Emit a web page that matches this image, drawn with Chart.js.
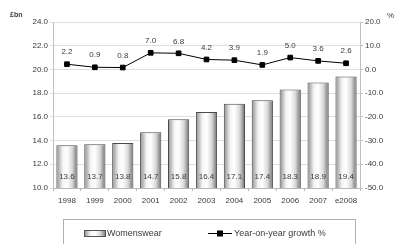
<!DOCTYPE html>
<html>
<head>
<meta charset="utf-8">
<script src="https://cdn.jsdelivr.net/npm/chart.js@4"></script>
<style>
  html, body { margin: 0; padding: 0; background: #fff; }
  #wrap { width: 396px; height: 244px; }
</style>
</head>
<body>
<div id="wrap"><canvas id="chart" width="396" height="244"></canvas></div>
<script>
// Womenswear market, £bn and growth %
const years = ['1998', '1999', '2000', '2001', '2002', '2003', '2004', '2005', '2006', '2007', 'e2008'];
const womenswear = [13.6, 13.7, 13.8, 14.7, 15.8, 16.4, 17.1, 17.4, 18.3, 18.9, 19.4];
const growth = [2.2, 0.9, 0.8, 7.0, 6.8, 4.2, 3.9, 1.9, 5.0, 3.6, 2.6];

const FONT = '"Liberation Sans", Arial, sans-serif';
const TEXT = '#3a3a3a';

function barGradient(ctx, x0, x1) {
  const g = ctx.createLinearGradient(x0, 0, x1, 0);
  g.addColorStop(0, '#8c8c8c');
  g.addColorStop(0.3, '#f4f4f4');
  g.addColorStop(0.5, '#ffffff');
  g.addColorStop(0.75, '#d8d8d8');
  g.addColorStop(1, '#6e6e6e');
  return g;
}

// scriptable fill: gradient across each bar
function barFill(context) {
  const chart = context.chart;
  const area = chart.chartArea;
  if (!area || context.dataIndex === undefined) return '#cccccc';
  const xs = chart.scales.x;
  const cat = (area.right - area.left) / years.length;
  const w = cat * 0.76;
  const cx = xs.getPixelForValue(context.dataIndex);
  return barGradient(chart.ctx, cx - w / 2, cx + w / 2);
}

// value labels, unit titles and the boxed legend
const extras = {
  id: 'extras',
  afterDatasetsDraw(chart) {
    const ctx = chart.ctx;
    ctx.save();
    ctx.font = '8px ' + FONT;
    ctx.fillStyle = TEXT;
    ctx.textAlign = 'center';
    ctx.textBaseline = 'middle';
    const base = chart.scales.y.getPixelForValue(10);
    const bars = chart.getDatasetMeta(0).data;
    bars.forEach((b, i) => {
      ctx.fillText(womenswear[i].toFixed(1), b.x, base - 11);
    });
    const pts = chart.getDatasetMeta(1).data;
    pts.forEach((p, i) => {
      ctx.fillText(growth[i].toFixed(1), p.x, p.y - 12);
    });
    ctx.restore();
  },
  afterDraw(chart) {
    const ctx = chart.ctx;
    ctx.save();
    ctx.font = 'bold 7px ' + FONT;
    ctx.fillStyle = TEXT;
    ctx.textBaseline = 'middle';
    ctx.textAlign = 'left';
    ctx.fillText('£bn', 10, 15);
    ctx.font = '8px ' + FONT;
    ctx.fillText('%', 387, 16);

    // legend box
    ctx.strokeStyle = '#b0b0b0';
    ctx.lineWidth = 1;
    ctx.strokeRect(63.5, 219.5, 292, 30);
    // bar swatch
    ctx.fillStyle = barGradient(ctx, 84, 106);
    ctx.fillRect(84, 230, 22, 7);
    ctx.strokeStyle = '#555';
    ctx.strokeRect(84.5, 230.5, 21, 6);
    ctx.fillStyle = TEXT;
    ctx.font = '9px ' + FONT;
    ctx.fillText(chart.data.datasets[0].label, 107, 234);
    // line swatch
    ctx.strokeStyle = '#000';
    ctx.beginPath();
    ctx.moveTo(208, 233.5);
    ctx.lineTo(232, 233.5);
    ctx.stroke();
    ctx.fillStyle = '#000';
    ctx.fillRect(217, 230.5, 6, 6);
    ctx.fillStyle = TEXT;
    ctx.fillText(chart.data.datasets[1].label, 234, 234);
    ctx.restore();
  }
};

new Chart(document.getElementById('chart'), {
  type: 'bar',
  data: {
    labels: years,
    datasets: [
      {
        type: 'bar',
        label: 'Womenswear',
        data: womenswear,
        yAxisID: 'y',
        backgroundColor: barFill,
        borderColor: '#4a4a4a',
        borderWidth: 1,
        categoryPercentage: 0.95,
        barPercentage: 0.8,
        order: 2
      },
      {
        type: 'line',
        label: 'Year-on-year growth %',
        data: growth,
        yAxisID: 'y1',
        borderColor: '#000',
        borderWidth: 1,
        pointStyle: 'rect',
        pointRadius: 3.3,
        pointBackgroundColor: '#000',
        pointBorderColor: '#000',
        tension: 0,
        order: 1
      }
    ]
  },
  options: {
    responsive: false,
    animation: false,
    layout: { padding: { top: 22, left: 0, right: 0, bottom: 0 } },
    plugins: {
      legend: { display: false },
      tooltip: { enabled: false }
    },
    scales: {
      x: {
        offset: true,
        afterFit: s => { s.height = 56; },
        grid: { drawOnChartArea: false, drawTicks: true, tickLength: 3, color: '#b8b8b8', offset: true },
        border: { color: '#b8b8b8' },
        ticks: { color: TEXT, font: { family: FONT, size: 8 }, padding: 5, maxRotation: 0 }
      },
      y: {
        position: 'left',
        min: 10,
        max: 24,
        afterFit: s => { s.width = 53; },
        grid: { color: '#dedede', tickLength: 3, drawTicks: true },
        border: { color: '#c0c0c0' },
        ticks: {
          stepSize: 2,
          color: TEXT,
          font: { family: FONT, size: 8 },
          padding: 2,
          callback: v => v.toFixed(1)
        }
      },
      y1: {
        position: 'right',
        min: -50,
        max: 20,
        afterFit: s => { s.width = 36; },
        grid: { drawOnChartArea: false, tickLength: 3, color: '#c0c0c0' },
        border: { color: '#c0c0c0' },
        ticks: {
          stepSize: 10,
          color: TEXT,
          font: { family: FONT, size: 8 },
          padding: 2,
          callback: v => v.toFixed(1)
        }
      }
    }
  },
  plugins: [extras]
});
</script>
</body>
</html>
